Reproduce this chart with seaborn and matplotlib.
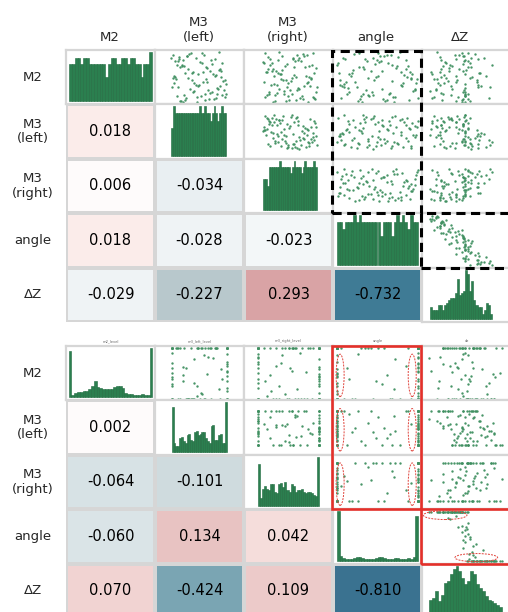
import numpy as np
import pandas as pd
import matplotlib
matplotlib.use("Agg")
import matplotlib.pyplot as plt
import seaborn as sns
from matplotlib.colors import LinearSegmentedColormap
from matplotlib.patches import Rectangle, Ellipse

sns.set_style("white")
plt.rcParams["font.family"] = ["DejaVu Sans"]

W, H, DPI = 508, 612, 100

VARS = ["M2", "M3_left", "M3_right", "angle", "dZ"]
COL_LABELS = ["M2", "M3\n(left)", "M3\n(right)", "angle", "ΔZ"]
ROW_LABELS = ["M2", "M3\n(left)", "M3\n(right)", "angle", "ΔZ"]
SMALL_TITLES = ["m2_level", "m3_left_level", "m3_right_level", "angle", "dz"]

# ---- design 1: uniform sampling ----
top_m2 = [40, 72, 15, 93, 58, 7, 34, 81, 26, 64, 49, 11, 87, 3, 69, 46, 21, 98, 55, 30,
          77, 9, 62, 38, 90, 17, 51, 84, 1, 43, 74, 28, 96, 60, 13, 67, 36, 5, 85, 23,
          53, 79, 32, 70, 19, 45, 88, 10, 57, 92, 25, 66, 41, 2, 76, 31, 99, 14, 48, 63,
          35, 82, 17, 59, 6, 44, 71, 97, 27, 52, 86, 12, 65, 39, 8, 78, 22, 56, 4, 94,
          29, 61, 83, 47, 18, 73, 33, 91, 50, 16]
top_m3l = [57, 23, 91, 4, 38, 76, 50, 13, 67, 85, 30, 96, 45, 18, 62, 9, 73, 35, 80, 2,
           55, 27, 89, 41, 15, 60, 8, 71, 47, 93, 20, 84, 33, 58, 11, 65, 98, 25, 79, 42,
           6, 52, 88, 16, 70, 37, 1, 81, 49, 28, 94, 31, 64, 22, 74, 12, 86, 53, 3, 69,
           44, 7, 83, 26, 61, 97, 19, 56, 34, 78, 14, 46, 87, 5, 68, 92, 39, 75, 17, 59,
           82, 40, 21, 63, 99, 10, 48, 29, 90, 24]
top_m3r = [83, 41, 8, 62, 27, 95, 15, 70, 49, 36, 88, 5, 55, 22, 77, 33, 12, 92, 58, 45,
           3, 68, 24, 80, 10, 39, 85, 65, 18, 52, 90, 30, 73, 7, 47, 97, 21, 60, 13, 38,
           79, 1, 87, 57, 26, 43, 66, 94, 34, 75, 63, 19, 2, 82, 44, 99, 29, 71, 54, 16,
           26, 59, 11, 93, 48, 37, 84, 4, 67, 20, 56, 91, 9, 46, 74, 17, 98, 31, 42, 81,
           64, 6, 28, 89, 53, 14, 76, 35, 61, 23]
top_angle = [12, 87, 45, 66, 3, 29, 78, 54, 95, 20, 38, 71, 8, 59, 33, 91, 16, 50, 82, 25,
             63, 6, 42, 97, 75, 13, 48, 85, 31, 68, 1, 56, 22, 89, 40, 73, 10, 61, 35, 93,
             18, 52, 80, 27, 65, 4, 44, 99, 15, 58, 36, 84, 23, 70, 47, 9, 77, 30, 90, 55,
             5, 37, 64, 19, 88, 46, 74, 28, 96, 51, 11, 69, 34, 81, 57, 2, 43, 92, 26, 62,
             14, 79, 49, 98, 32, 67, 7, 53, 86, 39]
top_dz = [75, 27, 38, 44, 79, 62, 23, 57, 17, 60, 66, 14, 85, 45, 63, 15, 55, 62, 29, 77,
          31, 92, 36, 20, 23, 62, 69, 24, 58, 34, 97, 40, 73, 10, 59, 35, 58, 54, 46, 8,
          88, 30, 38, 67, 25, 76, 67, 12, 58, 56, 57, 24, 45, 54, 55, 94, 19, 58, 32, 56,
          77, 63, 27, 78, 26, 47, 40, 54, 17, 45, 77, 48, 50, 29, 55, 66, 59, 12, 65, 50,
          59, 23, 58, 19, 58, 37, 81, 57, 25, 59]

top_hist = {
    "M2": [6, 6, 7, 7, 6, 7, 7, 6, 6, 6, 6, 6, 6, 4, 6, 7, 7, 6, 6, 7, 7, 6, 7, 7, 6, 6, 4, 6, 6, 8],
    "M3_left": [4, 7, 6, 6, 6, 6, 6, 6, 6, 6, 6, 6, 6, 6, 6, 7, 6, 6, 7, 6, 6, 5, 6, 7, 6, 5, 6, 7, 6, 6],
    "M3_right": [5, 5, 4, 7, 7, 7, 7, 7, 7, 8, 7, 7, 7, 7, 7, 6, 7, 8, 7, 7, 7, 6, 7, 8, 7, 7, 7, 7, 8, 7],
    "angle": [6, 6, 5, 6, 6, 6, 7, 6, 7, 6, 6, 6, 6, 6, 6, 6, 4, 6, 6, 6, 4, 6, 7, 6, 7, 6, 5, 7, 6, 6],
    "dZ": [5, 4, 4, 4, 6, 6, 4, 6, 7, 8, 9, 9, 11, 17, 10, 11, 12, 21, 19, 12, 16, 8, 6, 5, 5, 2, 4, 7, 6, 2],
}

top_corr = [[], [0.018], [0.006, -0.034], [0.018, -0.028, -0.023],
            [-0.029, -0.227, 0.293, -0.732]]

# ---- design 2: boundary-heavy sampling ----
bot_m2 = [0, 62, 100, 100, 0, 35, 48, 0, 100, 20, 100, 72, 100, 0, 100, 55, 28, 0, 90, 100,
          65, 12, 100, 38, 0, 85, 100, 46, 0, 100, 30, 100, 0, 58, 80, 0, 100, 22, 0, 100,
          42, 0, 100, 15, 100, 70, 100, 0, 5, 100, 52, 0, 100, 38, 88, 0, 100, 60, 0, 100,
          100, 100, 0, 0, 100, 60, 25, 0, 100, 78, 100, 45, 0, 100, 0, 68, 100, 10, 0, 100,
          50, 25, 100, 0, 100, 35, 100, 0, 82, 0]
bot_m3l = [100, 20, 0, 55, 38, 100, 63, 27, 0, 85, 48, 100, 12, 70, 45, 100, 0, 34, 0, 78,
           100, 52, 0, 91, 30, 58, 100, 20, 100, 8, 40, 65, 0, 88, 74, 0, 22, 100, 50, 35,
           0, 60, 15, 100, 82, 0, 70, 100, 45, 10, 100, 30, 52, 0, 100, 32, 60, 0, 86, 48,
           0, 100, 58, 15, 100, 25, 0, 100, 68, 40, 0, 100, 36, 80, 25, 100, 0, 55, 12, 100,
           0, 45, 100, 0, 80, 20, 100, 40, 65, 0]
bot_m3r = [35, 100, 0, 72, 100, 12, 100, 50, 0, 63, 100, 0, 44, 0, 82, 55, 100, 0, 68, 100,
           30, 100, 58, 0, 0, 40, 100, 20, 75, 50, 0, 90, 25, 100, 0, 100, 62, 0, 100, 84,
           100, 48, 100, 22, 0, 38, 100, 65, 15, 0, 78, 100, 30, 100, 0, 88, 10, 52, 60, 0,
           100, 0, 30, 100, 55, 0, 35, 100, 0, 100, 58, 100, 0, 20, 70, 0, 100, 45, 100, 0,
           0, 100, 40, 0, 60, 100, 50, 100, 0, 80]
bot_angle = [0, 100, 0, 100, 45, 100, 0, 0, 100, 70, 100, 0, 30, 100, 0, 100, 55, 0, 100, 0,
             85, 100, 0, 15, 100, 0, 100, 62, 0, 100, 0, 38, 100, 0, 100, 78, 0, 100, 22, 100,
             0, 92, 100, 0, 50, 100, 0, 8, 100, 0, 100, 65, 0, 100, 26, 0, 100, 12, 100, 58,
             100, 0, 100, 0, 42, 100, 0, 100, 0, 72, 100, 0, 18, 100, 0, 100, 34, 0, 100, 88,
             0, 100, 5, 100, 0, 48, 100, 0, 100, 68]
bot_dz = [61, 39, 85, 22, 54, 18, 81, 67, 45, 40, 22, 56, 58, 15, 70, 8, 52, 82, 48, 57,
          30, 44, 92, 53, 35, 52, 24, 48, 62, 37, 76, 48, 52, 68, 6, 52, 72, 16, 69, 42,
          83, 37, 35, 50, 48, 36, 66, 60, 46, 62, 33, 51, 66, 43, 46, 82, 30, 58, 42, 45,
          41, 58, 28, 79, 46, 40, 73, 28, 65, 44, 33, 55, 56, 27, 74, 22, 61, 74, 50, 28,
          89, 32, 53, 33, 59, 54, 22, 79, 19, 49]

bot_hist = {
    "M2": [40, 2, 4, 5, 5, 6, 6, 7, 10, 14, 9, 8, 7, 7, 7, 7, 9, 10, 10, 8, 4, 3, 3, 2, 2, 2, 3, 2, 2, 43],
    "M3_left": [30, 6, 4, 4, 9, 10, 7, 6, 11, 12, 8, 7, 13, 14, 11, 12, 13, 13, 9, 7, 6, 17, 18, 8, 8, 11, 12, 6, 6, 33],
    "M3_right": [29, 6, 12, 14, 12, 11, 15, 15, 10, 9, 15, 16, 13, 17, 11, 10, 15, 14, 10, 11, 11, 12, 10, 9, 10, 10, 9, 8, 7, 34],
    "angle": [60, 6, 3, 2, 2, 2, 3, 4, 4, 3, 2, 2, 2, 2, 3, 5, 5, 3, 2, 2, 2, 3, 3, 2, 2, 2, 3, 2, 4, 54],
    "dZ": [9, 10, 14, 8, 12, 19, 20, 24, 27, 29, 26, 22, 18, 20, 26, 24, 18, 16, 14, 11, 9, 8, 7, 6, 5],
}

bot_corr = [[], [0.002], [-0.064, -0.101], [-0.060, 0.134, 0.042],
            [0.070, -0.424, 0.109, -0.810]]

# axis padding (fraction of data span) for each variable, low side / high side
top_pads = [(0.04, 0.04), (0.3, 0.32), (0.36, 0.3), (0.05, 0.05), (0.12, 0.3)]
bot_pads = [(0.03, 0.03), (0.3, 0.3), (0.22, 0.22), (0.05, 0.05), (0.1, 0.12)]

GREEN = "#2b7f4f"
DOT = "#3f8f60"
GRID = "#d6d6d6"

anchors = [(-1.0, "#235b78"), (-0.81, "#3a7290"), (-0.73, "#3f7b95"), (-0.42, "#7ba6b4"),
           (-0.23, "#b8c8cc"), (-0.10, "#cfdbde"), (-0.06, "#d9e3e6"), (-0.03, "#edf2f4"),
           (0.0, "#ffffff"), (0.02, "#fbecea"), (0.045, "#f4dcda"), (0.07, "#f0d2d1"),
           (0.13, "#e9c4c3"), (0.29, "#d9a3a5"), (1.0, "#b0505a")]
corr_cmap = LinearSegmentedColormap.from_list("corr", [((v + 1) / 2, c) for v, c in anchors])

fig = plt.figure(figsize=(W / DPI, H / DPI), dpi=DPI)


def rect(x0, y0, x1, y1):
    return [x0 / W, 1 - y1 / H, (x1 - x0) / W, (y1 - y0) / H]


def clean(ax):
    ax.set_xticks([])
    ax.set_yticks([])
    ax.set_xlabel("")
    ax.set_ylabel("")
    for sp in ax.spines.values():
        sp.set_visible(True)
        sp.set_color(GRID)
        sp.set_linewidth(1.6)


def draw_grid(y_top, frame, hists, corr_rows, pads):
    xs = [66 + 89 * i for i in range(6)]
    ys = [y_top + 54.4 * i for i in range(6)]

    mat = np.full((5, 5), np.nan)
    for i, row in enumerate(corr_rows):
        for j, v in enumerate(row):
            mat[i, j] = v
    corr_df = pd.DataFrame(mat, index=VARS, columns=VARS)
    mask = np.triu(np.ones((5, 5), dtype=bool))

    hm = fig.add_axes(rect(xs[0], ys[0], xs[5], ys[5]))
    sns.heatmap(corr_df, mask=mask, cmap=corr_cmap, vmin=-1, vmax=1, annot=True, fmt=".3f",
                annot_kws={"size": 10.5, "color": "black"}, linewidths=1.6, linecolor=GRID,
                cbar=False, xticklabels=False, yticklabels=False, ax=hm)
    hm.set_xlabel("")
    hm.set_ylabel("")

    lims = []
    for k, var in enumerate(VARS):
        lo, hi = min(frame[var]), max(frame[var])
        span = hi - lo
        lims.append((lo - pads[k][0] * span, hi + pads[k][1] * span))

    axes = {}
    for i in range(5):
        for j in range(i, 5):
            ax = fig.add_axes(rect(xs[j], ys[i], xs[j + 1], ys[i + 1]))
            if i == j:
                var = VARS[i]
                counts = list(hists[var])
                lo, hi = float(min(frame[var])), float(max(frame[var]))
                n = len(counts)
                step = (hi - lo) / n
                bins_df = pd.DataFrame({"value": [lo + (k + 0.5) * step for k in range(n)],
                                        "count": counts})
                sns.histplot(data=bins_df, x="value", weights="count", bins=n,
                             binrange=(lo, hi), ax=ax, color=GREEN, alpha=1,
                             edgecolor="#1e6a3e", linewidth=0.4)
                m = max(counts)
                ax.set_ylim(-0.06 * m, 1.04 * m)
            else:
                sns.scatterplot(data=frame, x=VARS[j], y=VARS[i], ax=ax, s=3,
                                color=DOT, linewidth=0, alpha=0.95)
                ax.set_ylim(lims[i])
            ax.set_xlim(lims[j])
            clean(ax)
            axes[(i, j)] = ax
    return xs, ys, axes


top_df = pd.DataFrame({"M2": top_m2, "M3_left": top_m3l, "M3_right": top_m3r,
                       "angle": top_angle, "dZ": top_dz})
bot_df = pd.DataFrame({"M2": bot_m2, "M3_left": bot_m3l, "M3_right": bot_m3r,
                       "angle": bot_angle, "dZ": bot_dz})

xs, ys_top, _ = draw_grid(50, top_df, top_hist, top_corr, top_pads)
_, ys_bot, bot_axes = draw_grid(346, bot_df, bot_hist, bot_corr, bot_pads)

# column headers
col_x = [110, 199, 288, 376, 460]
for cx, lab in zip(col_x, COL_LABELS):
    fig.text(cx / W, 1 - 44 / H, lab, ha="center", va="bottom", fontsize=9.5,
             multialignment="center")

# row labels for both grids
for ys in (ys_top, ys_bot):
    for i, lab in enumerate(ROW_LABELS):
        cy = (ys[i] + ys[i + 1]) / 2
        fig.text(33 / W, 1 - cy / H, lab, ha="center", va="center", fontsize=9.5,
                 multialignment="center", linespacing=1.1)

# small variable names above the second grid
for k, t in enumerate(SMALL_TITLES):
    cx = (xs[k] + xs[k + 1]) / 2
    fig.text(cx / W, 1 - 343 / H, t, ha="center", va="bottom", fontsize=2.6, color="#666666")


def frame_box(x0, y0, x1, y1, **kw):
    fig.add_artist(Rectangle((x0 / W, 1 - y1 / H), (x1 - x0) / W, (y1 - y0) / H,
                             transform=fig.transFigure, fill=False, clip_on=False, **kw))


dash_kw = dict(edgecolor="black", linewidth=2.2, linestyle=(0, (3, 1.8)))
frame_box(332, 51, 421, 213, **dash_kw)
frame_box(421, 213, 512, 268, **dash_kw)

red_kw = dict(edgecolor="#e4302a", linewidth=1.9)
frame_box(332, 346, 421, 509, **red_kw)
frame_box(421, 509, 512, 564, **red_kw)

ell_kw = dict(fill=False, edgecolor="#e0423a", linewidth=0.7, linestyle=(0, (2, 1.2)), clip_on=False)
for i in range(3):
    ax = bot_axes[(i, 3)]
    for ex in (0.08, 0.89):
        ax.add_patch(Ellipse((ex, 0.46), 0.09, 0.78, transform=ax.transAxes, **ell_kw))
ax = bot_axes[(3, 4)]
ax.add_patch(Ellipse((0.26, 0.89), 0.49, 0.16, transform=ax.transAxes, **ell_kw))
ax.add_patch(Ellipse((0.61, 0.11), 0.48, 0.15, transform=ax.transAxes, **ell_kw))

fig.savefig("out.png", dpi=DPI)
